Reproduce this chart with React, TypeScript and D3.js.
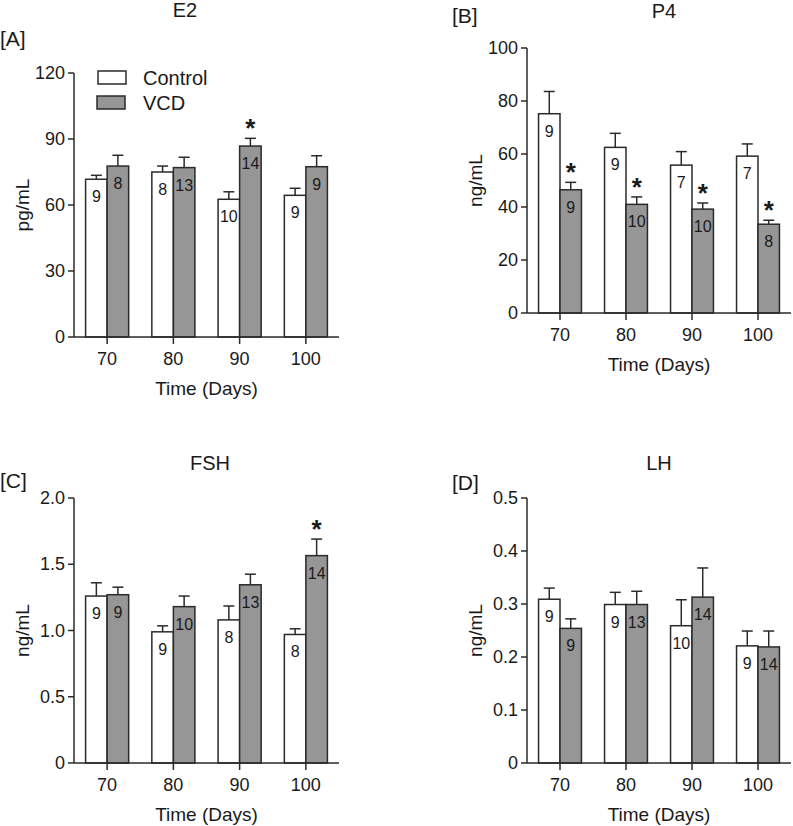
import React from "react";
import * as d3 from "d3";

const days = ["70", "80", "90", "100"];

// [A] E2 (pg/mL)
const e2Control = [71.7, 75.0, 62.6, 64.4];
const e2ControlSem = [1.8, 2.7, 3.4, 3.2];
const e2Vcd = [77.7, 77.0, 86.8, 77.4];
const e2VcdSem = [4.9, 4.7, 3.5, 5.0];
const e2ControlN = [9, 8, 10, 9];
const e2VcdN = [8, 13, 14, 9];
const e2Star = [false, false, true, false];
const e2Ticks = [0, 30, 60, 90, 120];

// [B] P4 (ng/mL)
const p4Control = [75.2, 62.5, 55.8, 59.2];
const p4ControlSem = [8.4, 5.3, 5.1, 4.6];
const p4Vcd = [46.5, 41.0, 39.2, 33.5];
const p4VcdSem = [2.8, 2.8, 2.3, 1.5];
const p4ControlN = [9, 9, 7, 7];
const p4VcdN = [9, 10, 10, 8];
const p4Star = [true, true, true, true];
const p4Ticks = [0, 20, 40, 60, 80, 100];

// [C] FSH (ng/mL)
const fshControl = [1.26, 0.99, 1.08, 0.97];
const fshControlSem = [0.1, 0.045, 0.105, 0.043];
const fshVcd = [1.27, 1.18, 1.345, 1.565];
const fshVcdSem = [0.057, 0.08, 0.08, 0.125];
const fshControlN = [9, 9, 8, 8];
const fshVcdN = [9, 10, 13, 14];
const fshStar = [false, false, false, true];
const fshTicks = [0, 0.5, 1.0, 1.5, 2.0];

// [D] LH (ng/mL)
const lhControl = [0.309, 0.299, 0.259, 0.221];
const lhControlSem = [0.021, 0.023, 0.049, 0.028];
const lhVcd = [0.254, 0.299, 0.313, 0.219];
const lhVcdSem = [0.018, 0.025, 0.055, 0.03];
const lhControlN = [9, 9, 10, 9];
const lhVcdN = [9, 13, 14, 14];
const lhStar = [false, false, false, false];
const lhTicks = [0, 0.1, 0.2, 0.3, 0.4, 0.5];

const groups = ["Control", "VCD"];
const FONT = "'Liberation Sans', Arial, Helvetica, sans-serif";
const INK = "#1a1a1a";
const LINE = "#2a2a2a";
const GRAY = "#969696";

type PanelProps = {
  x0: number;
  x1: number;
  yTop: number;
  yBottom: number;
  max: number;
  ticks: number[];
  fmt: (v: number) => string;
  control: number[];
  controlSem: number[];
  vcd: number[];
  vcdSem: number[];
  controlN: number[];
  vcdN: number[];
  star: boolean[];
  title: string;
  titleX: number;
  titleY: number;
  tag: string;
  tagX: number;
  tagY: number;
  yLabel: string;
  legend?: boolean;
};

function Panel(p: PanelProps) {
  const x = d3
    .scaleBand<string>()
    .domain(days)
    .range([p.x0, p.x1])
    .paddingInner(0.35)
    .paddingOuter(0.175);
  const xg = d3.scaleBand<string>().domain(groups).range([0, x.bandwidth()]);
  const y = d3.scaleLinear().domain([0, p.max]).range([p.yBottom, p.yTop]);
  const series = [
    { key: "Control", vals: p.control, sem: p.controlSem, n: p.controlN, fill: "#ffffff", star: days.map(() => false) },
    { key: "VCD", vals: p.vcd, sem: p.vcdSem, n: p.vcdN, fill: GRAY, star: p.star },
  ];
  const cx = (d: string) => (x(d) as number) + x.bandwidth() / 2;
  return (
    <g>
      <text x={p.titleX} y={p.titleY} fontSize={20} textAnchor="middle" dominantBaseline="central" fill={INK}>
        {p.title}
      </text>
      <text x={p.tagX} y={p.tagY} fontSize={21} textAnchor="start" dominantBaseline="central" fill={INK}>
        {p.tag}
      </text>
      {series.map((s) =>
        days.map((d, i) => {
          const bx = (x(d) as number) + (xg(s.key) as number);
          const bw = xg.bandwidth();
          const top = y(s.vals[i]);
          const et = y(s.vals[i] + s.sem[i]);
          const mx = bx + bw / 2;
          return (
            <g key={s.key + d}>
              <line x1={mx} x2={mx} y1={top} y2={et} stroke={LINE} strokeWidth={1.5} />
              <line x1={mx - 5.5} x2={mx + 5.5} y1={et} y2={et} stroke={LINE} strokeWidth={1.5} />
              <rect x={bx} y={top} width={bw} height={p.yBottom - top} fill={s.fill} stroke={LINE} strokeWidth={1.5} />
              <text x={mx} y={top + 17.5} fontSize={16} textAnchor="middle" dominantBaseline="central" fill={INK}>
                {s.n[i]}
              </text>
              {s.star[i] && (
                <text x={mx} y={et - 1} fontSize={26} fontWeight="bold" textAnchor="middle" fill={INK}>
                  *
                </text>
              )}
            </g>
          );
        })
      )}
      {/* y axis */}
      <line x1={p.x0} x2={p.x0} y1={y(p.max)} y2={p.yBottom} stroke={LINE} strokeWidth={1.5} />
      {p.ticks.map((t) => (
        <g key={"yt" + t}>
          <line x1={p.x0 - 6} x2={p.x0} y1={y(t)} y2={y(t)} stroke={LINE} strokeWidth={1.5} />
          <text x={p.x0 - 9} y={y(t)} fontSize={18} textAnchor="end" dominantBaseline="central" fill={INK}>
            {p.fmt(t)}
          </text>
        </g>
      ))}
      {/* x axis */}
      <line x1={p.x0} x2={p.x1} y1={p.yBottom} y2={p.yBottom} stroke={LINE} strokeWidth={1.5} />
      {days.map((d) => (
        <g key={"xt" + d}>
          <line x1={cx(d)} x2={cx(d)} y1={p.yBottom} y2={p.yBottom + 7} stroke={LINE} strokeWidth={1.5} />
          <text x={cx(d)} y={p.yBottom + 22} fontSize={18} textAnchor="middle" dominantBaseline="central" fill={INK}>
            {d}
          </text>
        </g>
      ))}
      <text
        x={(p.x0 + p.x1) / 2}
        y={p.yBottom + 51}
        fontSize={19}
        textAnchor="middle"
        dominantBaseline="central"
        fill={INK}
      >
        Time (Days)
      </text>
      <text
        transform={`translate(${p.x0 - 52},${(y(p.max) + p.yBottom) / 2}) rotate(-90)`}
        fontSize={19}
        textAnchor="middle"
        dominantBaseline="central"
        fill={INK}
      >
        {p.yLabel}
      </text>
      {p.legend && (
        <g>
          <rect x={98} y={71} width={28} height={13} fill="#ffffff" stroke={LINE} strokeWidth={1.5} />
          <rect x={97} y={96} width={28} height={13} fill={GRAY} stroke={LINE} strokeWidth={1.5} />
          <text x={143} y={77.5} fontSize={20} dominantBaseline="central" fill={INK}>
            Control
          </text>
          <text x={143} y={102.5} fontSize={20} dominantBaseline="central" fill={INK}>
            VCD
          </text>
        </g>
      )}
    </g>
  );
}

const intFmt = (v: number) => String(v);
const decFmt = (v: number) => (v === 0 ? "0" : d3.format(".1f")(v));

export default function App() {
  return (
    <svg
      width={793}
      height={826}
      style={{ position: "absolute", left: 0, top: 0, background: "#ffffff", fontFamily: FONT }}
    >
      <rect x={0} y={0} width={793} height={826} fill="#ffffff" />
      <Panel
        x0={74} x1={339} yTop={73} yBottom={337} max={120} ticks={e2Ticks} fmt={intFmt}
        control={e2Control} controlSem={e2ControlSem} vcd={e2Vcd} vcdSem={e2VcdSem}
        controlN={e2ControlN} vcdN={e2VcdN} star={e2Star}
        title="E2" titleX={185} titleY={10} tag="[A]" tagX={0} tagY={38} yLabel="pg/mL" legend
      />
      <Panel
        x0={527} x1={791} yTop={48} yBottom={313} max={100} ticks={p4Ticks} fmt={intFmt}
        control={p4Control} controlSem={p4ControlSem} vcd={p4Vcd} vcdSem={p4VcdSem}
        controlN={p4ControlN} vcdN={p4VcdN} star={p4Star}
        title="P4" titleX={664} titleY={11} tag="[B]" tagX={452} tagY={15} yLabel="ng/mL"
      />
      <Panel
        x0={74} x1={339} yTop={498} yBottom={763} max={2.0} ticks={fshTicks} fmt={decFmt}
        control={fshControl} controlSem={fshControlSem} vcd={fshVcd} vcdSem={fshVcdSem}
        controlN={fshControlN} vcdN={fshVcdN} star={fshStar}
        title="FSH" titleX={210} titleY={463} tag="[C]" tagX={0} tagY={480} yLabel="ng/mL"
      />
      <Panel
        x0={527} x1={791} yTop={498} yBottom={763} max={0.5} ticks={lhTicks} fmt={decFmt}
        control={lhControl} controlSem={lhControlSem} vcd={lhVcd} vcdSem={lhVcdSem}
        controlN={lhControlN} vcdN={lhVcdN} star={lhStar}
        title="LH" titleX={659} titleY={463} tag="[D]" tagX={452} tagY={482} yLabel="ng/mL"
      />
    </svg>
  );
}
